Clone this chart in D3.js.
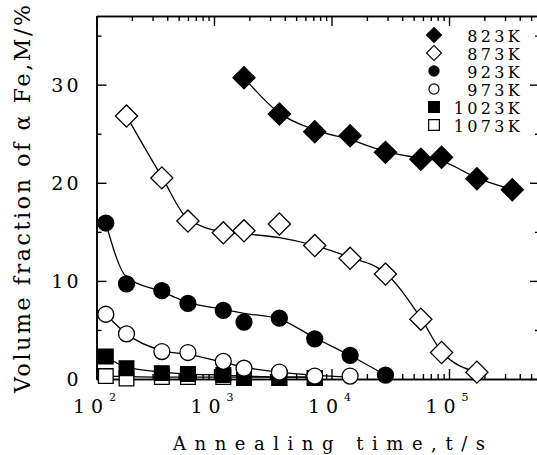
<!DOCTYPE html>
<html>
<head>
<meta charset="utf-8">
<script src="https://cdn.jsdelivr.net/npm/d3@7"></script>
<style>
body { margin: 0; background: #fff; }
svg { display: block; }
</style>
</head>
<body>
<div class="figure"></div>
<script>
// annealing times (s) shared by every series
var times = [120, 180, 360, 600, 1200, 1800, 3600, 7200, 14400, 28800, 57600, 86400, 172800, 345600]
var temps = ["823K", "873K", "923K", "973K", "1023K", "1073K"]

// measured points, volume fraction of alpha Fe (%)
var v823  = [null, null, null, null, null, 30.7, 27.0, 25.2, 24.8, 23.1, 22.4, 22.6, 20.4, 19.3]
var v873  = [null, 26.8, 20.5, 16.1, 14.9, 15.1, 15.8, 13.6, 12.3, 10.7, 6.1, 2.7, 0.7, null]
var v923  = [15.9, 9.7, 9.0, 7.7, 7.0, 5.8, 6.2, 4.1, 2.4, 0.4, null, null, null, null]
var v973  = [6.6, 4.6, 2.8, 2.7, 1.8, 1.1, 0.7, 0.3, 0.3, null, null, null, null, null]
var v1023 = [2.3, 1.1, 0.6, 0.5, 0.4, 0.1, 0.1, 0.1, null, null, null, null, null, null]
var v1073 = [0.3, 0.05, 0.2, 0.2, 0.2, null, 0.1, 0.1, null, null, null, null, null, null]

// smooth guide curves at the same times
var fit823  = [null, null, null, null, null, 30.7, 27.1, 25.4, 24.4, 23.2, 22.5, 22.2, 20.5, 19.3]
var fit873  = [null, 26.8, 20.6, 16.3, 15.0, 14.8, 14.4, 13.6, 12.4, 10.8, 6.2, 2.8, 0.7, null]
var fit923  = [15.9, 10.4, 8.9, 7.8, 7.1, 6.7, 6.1, 4.2, 2.4, 0.4, null, null, null, null]
var fit973  = [6.6, 4.6, 2.9, 2.5, 1.7, 1.2, 0.7, 0.4, 0.2, null, null, null, null, null]
var fit1023 = [2.3, 1.2, 0.7, 0.5, 0.4, 0.3, 0.2, 0.2, null, null, null, null, null, null]
var fit1073 = [0.3, 0.25, 0.2, 0.2, 0.2, 0.2, 0.2, 0.2, null, null, null, null, null, null]

var yMajor = [0, 10, 20, 30]
var yMinor = [5, 15, 25, 35]
var xMajor = [1e2, 1e3, 1e4, 1e5]
var xMajorExp = ["2", "3", "4", "5"]

var dim = { w: 537, h: 455 }
var plot = { left: 96.5, right: 540, top: 16, bottom: 379 }

// marker style per series: shape + fill
var markers = [
    { shape: "diamond", fill: "#000" },
    { shape: "diamond", fill: "#fff" },
    { shape: "circle",  fill: "#000" },
    { shape: "circle",  fill: "#fff" },
    { shape: "square",  fill: "#000" },
    { shape: "square",  fill: "#fff" },
]
var values = [v823, v873, v923, v973, v1023, v1073]
var fits = [fit823, fit873, fit923, fit973, fit1023, fit1073]

var serif = "'DejaVu Serif', 'Liberation Serif', serif"

var svg = d3.select("div.figure")
    .append("svg")
    .attr("width", dim.w)
    .attr("height", dim.h)
    .style("font-family", serif)

var xScale = d3.scaleLog()
    .domain([1e2, Math.pow(10, 2 + (plot.right - plot.left) / 117.5)])
    .range([plot.left, plot.right])

var yScale = d3.scaleLinear()
    .domain([0, 37])
    .range([plot.bottom, plot.top])

var xMinor = xScale.ticks().filter(function(t) {
    return xMajor.indexOf(t) < 0
})

var symbolFor = function(shape, big) {
    if (shape === "diamond") return d3.symbol().type(d3.symbolSquare).size(big ? 245 : 112)()
    if (shape === "circle") return d3.symbol().type(d3.symbolCircle).size(big ? 200 : 80)()
    return d3.symbol().type(d3.symbolSquare).size(big ? 215 : 115)()
}

// axes: ticks point inward on all four sides
var drawAxis = function(axisFn, scale, ticks, size, transform) {
    var g = svg.append("g")
        .attr("transform", transform)
        .call(axisFn(scale).tickValues(ticks).tickSize(size).tickSizeOuter(0).tickFormat(""))
    g.selectAll("line").attr("stroke", "#000").attr("stroke-width", 1.4)
    g.select("path").attr("stroke", "#000").attr("stroke-width", 1.6)
    return g
}

drawAxis(d3.axisBottom, xScale, xMajor, -10, "translate(0," + plot.bottom + ")")
drawAxis(d3.axisBottom, xScale, xMinor, -5, "translate(0," + plot.bottom + ")")
drawAxis(d3.axisTop, xScale, xMajor, -10, "translate(0," + plot.top + ")")
drawAxis(d3.axisTop, xScale, xMinor, -5, "translate(0," + plot.top + ")")
drawAxis(d3.axisLeft, yScale, yMajor, -10, "translate(" + plot.left + ",0)")
drawAxis(d3.axisLeft, yScale, yMinor, -5, "translate(" + plot.left + ",0)")
drawAxis(d3.axisRight, yScale, yMajor, -10, "translate(" + plot.right + ",0)")
drawAxis(d3.axisRight, yScale, yMinor, -5, "translate(" + plot.right + ",0)")

// y tick labels
svg.append("g")
    .selectAll("text")
    .data(yMajor).enter()
    .append("text")
    .attr("x", plot.left - 15)
    .attr("y", function(d) { return yScale(d) })
    .attr("dy", "0.36em")
    .attr("text-anchor", "end")
    .style("font-size", "19px")
    .style("letter-spacing", "3px")
    .text(function(d) { return d })

// x tick labels as 10 with superscript exponent
var xLabels = svg.append("g")
    .selectAll("text")
    .data(xMajor).enter()
    .append("text")
    .attr("x", function(d) { return xScale(d) - 2 })
    .attr("y", 413)
    .attr("text-anchor", "middle")
    .style("font-size", "19px")
xLabels.append("tspan")
    .style("letter-spacing", "6px")
    .text("10")
xLabels.append("tspan")
    .attr("dy", -12)
    .style("font-size", "11px")
    .text(function(d, i) { return xMajorExp[i] })

// axis titles
svg.append("text")
    .attr("x", 173)
    .attr("y", 450)
    .attr("textLength", 312)
    .attr("lengthAdjust", "spacing")
    .style("font-size", "18px")
    .text("Annealing time,t/s")

svg.append("text")
    .attr("transform", "translate(30,393) rotate(-90)")
    .attr("textLength", 388)
    .attr("lengthAdjust", "spacing")
    .style("font-size", "22px")
    .text("Volume fraction of \u03b1 Fe,M/%")

// curves, then markers (last series drawn first so filled marks sit above)
var line = d3.line()
    .defined(function(d) { return d.v !== null })
    .x(function(d) { return xScale(d.t) })
    .y(function(d) { return yScale(d.v) })
    .curve(d3.curveMonotoneX)

var order = [5, 4, 3, 2, 1, 0]
order.forEach(function(k) {
    var pts = times.map(function(t, i) { return { t: t, v: fits[k][i] } })
        .filter(function(d) { return d.v !== null })
    svg.append("path")
        .datum(pts)
        .attr("d", line)
        .attr("fill", "none")
        .attr("stroke", "#000")
        .attr("stroke-width", 1.3)
})

order.forEach(function(k) {
    var pts = times.map(function(t, i) { return { t: t, v: values[k][i] } })
        .filter(function(d) { return d.v !== null })
    var m = markers[k]
    svg.append("g")
        .selectAll("path")
        .data(pts).enter()
        .append("path")
        .attr("d", symbolFor(m.shape, true))
        .attr("transform", function(d) {
            return "translate(" + xScale(d.t) + "," + yScale(d.v) + ")" +
                   (m.shape === "diamond" ? " rotate(45)" : "")
        })
        .attr("fill", m.fill)
        .attr("stroke", "#000")
        .attr("stroke-width", 1.3)
})

// legend, top right
var legend = svg.append("g")
    .selectAll("g")
    .data(temps).enter()
    .append("g")
    .attr("transform", function(d, i) { return "translate(0," + (42 + i * 18) + ")" })

legend.append("path")
    .attr("d", function(d, i) { return symbolFor(markers[i].shape, false) })
    .attr("transform", function(d, i) {
        return "translate(434,-7)" + (markers[i].shape === "diamond" ? " rotate(45)" : "")
    })
    .attr("fill", function(d, i) { return markers[i].fill })
    .attr("stroke", "#000")
    .attr("stroke-width", 1.2)

legend.append("text")
    .attr("x", 523)
    .attr("text-anchor", "end")
    .style("font-size", "16px")
    .style("letter-spacing", "3.3px")
    .text(function(d) { return d })
</script>
</body>
</html>
